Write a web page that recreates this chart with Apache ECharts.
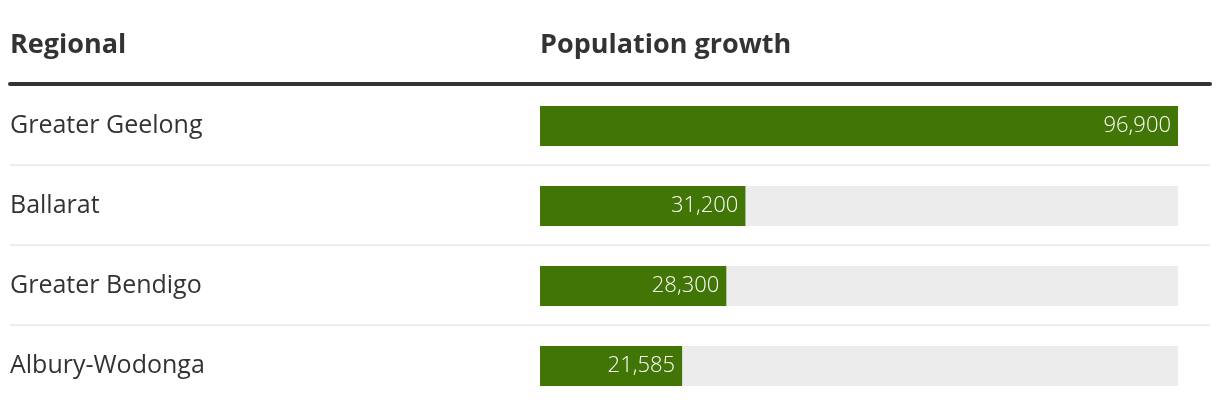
<!DOCTYPE html>
<html>
<head>
<meta charset="UTF-8">
<title>Population growth</title>
<script src="https://cdn.jsdelivr.net/npm/echarts@6/dist/echarts.min.js"></script>
<style>
    html, body { margin: 0; padding: 0; background: #fff; }
    #main { width: 1220px; height: 414px; }
</style>
</head>
<body>
<div id="main"></div>
<script type="text/javascript">
    // 数据
    var regions = ['Greater Geelong', 'Ballarat', 'Greater Bendigo', 'Albury-Wodonga'];
    var growth = [96900, 31200, 28300, 21585];
    var headers = ['Regional', 'Population growth'];

    var FONT = '"Open Sans", "Noto Sans", sans-serif';
    var myChart = echarts.init(document.getElementById('main'));

    var option = {
        backgroundColor: '#fff',
        animation: false,
        textStyle: { fontFamily: FONT },
        title: [
            {
                text: headers[0], left: 10, top: 32, padding: 0,
                textStyle: { fontFamily: FONT, fontSize: 27, fontWeight: 'bold', color: '#333' }
            },
            {
                text: headers[1], left: 540, top: 32, padding: 0,
                textStyle: { fontFamily: FONT, fontSize: 27, fontWeight: 'bold', color: '#333' }
            }
        ],
        grid: [
            { left: 540, right: 42, top: 86, height: 320 },
            // 分隔线用的网格
            { left: 10, right: 10, top: 85, height: 320 }
        ],
        xAxis: [
            { type: 'value', gridIndex: 0, min: 0, max: growth[0], show: false },
            {
                type: 'value', gridIndex: 1, min: 0, max: 1, position: 'top', offset: 1,
                axisLine: { show: true, onZero: false, lineStyle: { color: '#333', width: 4 } },
                axisTick: { show: false }, axisLabel: { show: false }, splitLine: { show: false }
            }
        ],
        yAxis: [
            {
                type: 'category', gridIndex: 0, inverse: true, data: regions,
                axisLine: { show: false }, axisTick: { show: false },
                axisLabel: { margin: 530, align: 'left', fontSize: 25, color: '#333', fontFamily: FONT }
            },
            {
                type: 'category', gridIndex: 1, inverse: true, data: regions,
                axisLine: { show: false }, axisTick: { show: false }, axisLabel: { show: false },
                splitLine: {
                    show: true,
                    lineStyle: {
                        width: 2,
                        color: ['rgba(0,0,0,0)', '#ececec', '#ececec', '#ececec', 'rgba(0,0,0,0)']
                    }
                }
            }
        ],
        series: [
            {
                type: 'bar',
                xAxisIndex: 0, yAxisIndex: 0,
                data: growth,
                barWidth: 40,
                itemStyle: { color: '#417505' },
                showBackground: true,
                backgroundStyle: { color: '#ececec' },
                label: {
                    show: true,
                    position: 'insideRight',
                    distance: 7,
                    color: '#fff',
                    fontSize: 22,
                    fontWeight: 300,
                    fontFamily: FONT,
                    formatter: function (p) {
                        return p.value.toLocaleString('en-US');
                    }
                }
            }
        ]
    };
    myChart.setOption(option);
</script>
</body>
</html>
